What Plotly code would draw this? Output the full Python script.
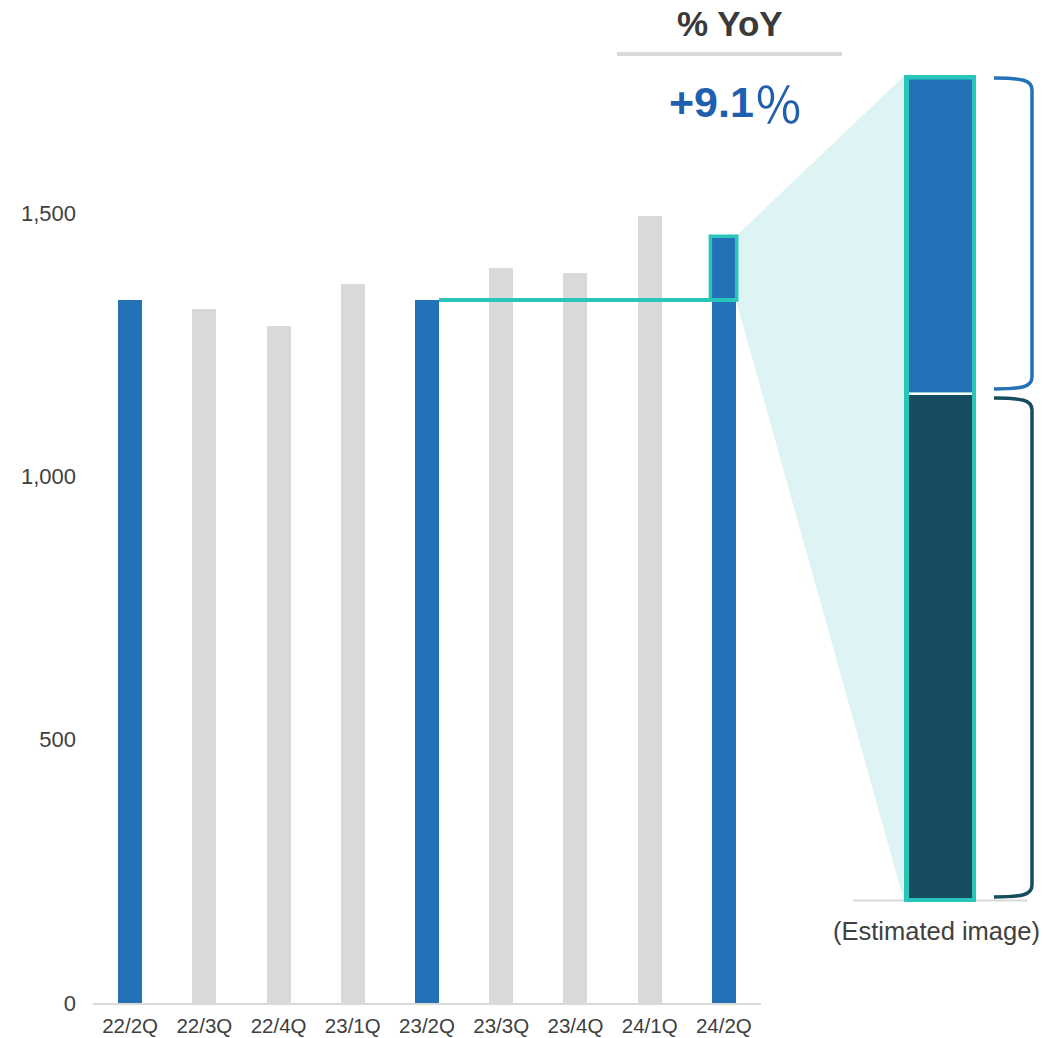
import plotly.graph_objects as go

# ---------------- data ----------------
quarters = ["22/2Q", "22/3Q", "22/4Q", "23/1Q", "23/2Q", "23/3Q", "23/4Q", "24/1Q", "24/2Q"]
values = [1334, 1318, 1286, 1365, 1335, 1396, 1386, 1494, 1456]
highlight = [True, False, False, False, True, False, False, False, True]
y_ticks = [0, 500, 1000, 1500]
y_tick_labels = ["0", "500", "1,000", "1,500"]
yoy_title = "% YoY"
yoy_value = "+9.1"
yoy_pct = "％"
estimate_label = "(Estimated image)"

# ---------------- style ----------------
BLUE = "#2371B7"
GRAY = "#D9D9D9"
TEAL = "#27C6B8"
LIGHT_TEAL = "#DDF3F4"
DARK = "#174B60"
TEXT = "#404040"
FONT = "Liberation Sans, Arial, sans-serif"

W, H = 1043, 1038
L, R, T, B = 93, 761, 35, 1003
YMAX = 1838
BAR_W = 0.324

def px(x):
    return (x - L) / (R - L)

def py(y):
    return (B - y) / (B - T)

def dx(x):
    return (x + 0.5) / len(quarters)

def dy(v):
    return v / YMAX

colors = [BLUE if h else GRAY for h in highlight]

fig = go.Figure(go.Bar(
    x=list(range(len(quarters))), y=values, marker=dict(color=colors, line=dict(width=0)),
    width=BAR_W, hoverinfo="skip",
))

shapes = []
# light teal zoom wedge
i_last, i_prev = len(values) - 1, 4
bx = dx(i_last + BAR_W / 2)
wedge = (f"M {bx},{dy(values[i_last])} L {px(904)},{py(76)} "
         f"L {px(904)},{py(901)} L {bx},{dy(values[i_prev])} Z")
shapes.append(dict(type="path", xref="paper", yref="paper", path=wedge,
                   fillcolor=LIGHT_TEAL, line=dict(width=0), layer="below"))

# YoY reference line and highlight box (data coords)
shapes.append(dict(type="line", xref="x", yref="y",
                   x0=i_prev + BAR_W / 2, x1=i_last + BAR_W / 2,
                   y0=values[i_prev], y1=values[i_prev],
                   line=dict(color=TEAL, width=4)))
shapes.append(dict(type="rect", xref="x", yref="y",
                   x0=i_last - BAR_W / 2 - 0.02, x1=i_last + BAR_W / 2 + 0.01,
                   y0=values[i_prev], y1=values[i_last],
                   line=dict(color=TEAL, width=3.5), fillcolor="rgba(0,0,0,0)"))

# big estimated bar
def prect(x0, y0, x1, y1, fill):
    return dict(type="rect", xref="paper", yref="paper", x0=px(x0), x1=px(x1),
                y0=py(y1), y1=py(y0), fillcolor=fill, line=dict(width=0))

shapes.append(dict(type="line", xref="paper", yref="paper", x0=px(853), x1=px(1027),
                   y0=py(900.5), y1=py(900.5), line=dict(color=GRAY, width=2)))
shapes.append(prect(904, 75, 976, 902, TEAL))
shapes.append(prect(909, 79.5, 972, 392.5, BLUE))
shapes.append(prect(909, 392.5, 972, 395, "white"))
shapes.append(prect(909, 395, 972, 898, DARK))

# brackets
def bracket(y0, y1, color):
    xa, xb = 994, 1032
    p = (f"M {px(xa)},{py(y0)} C {px(1022)},{py(y0)} {px(xb)},{py(y0 + 2)} {px(xb)},{py(y0 + 12)} "
         f"L {px(xb)},{py(y1 - 12)} C {px(xb)},{py(y1 - 2)} {px(1022)},{py(y1)} {px(xa)},{py(y1)}")
    return dict(type="path", xref="paper", yref="paper", path=p,
                line=dict(color=color, width=3.5))

shapes.append(bracket(78, 389, BLUE))
shapes.append(bracket(398, 897, DARK))

# line under % YoY
shapes.append(dict(type="line", xref="paper", yref="paper", x0=px(617), x1=px(842),
                   y0=py(54), y1=py(54), line=dict(color=GRAY, width=4)))

annotations = [
    dict(text=f"<b>{yoy_title}</b>", xref="paper", yref="paper", x=px(730), y=py(24),
         showarrow=False, font=dict(family=FONT, size=35, color="#3A3A3A"),
         xanchor="center", yanchor="middle"),
    dict(text=f"<b>{yoy_value}</b>", xref="paper", yref="paper", x=px(756), y=py(102),
         showarrow=False, font=dict(family=FONT, size=43, color="#1F60AE"),
         xanchor="right", yanchor="middle"),
    dict(text=yoy_pct, xref="paper", yref="paper", x=px(752), y=py(101),
         showarrow=False, font=dict(family="Noto Sans CJK JP", size=49, color="#1F60AE"),
         xanchor="left", yanchor="middle"),
    dict(text=estimate_label, xref="paper", yref="paper", x=px(936), y=py(931),
         showarrow=False, font=dict(family=FONT, size=25.5, color=TEXT),
         xanchor="center", yanchor="middle"),
]

fig.update_layout(
    width=W, height=H,
    margin=dict(l=L, r=W - R, t=T, b=H - B),
    plot_bgcolor="white", paper_bgcolor="white",
    showlegend=False, bargap=0,
    shapes=shapes, annotations=annotations,
    font=dict(family=FONT, size=21, color=TEXT),
)
fig.update_xaxes(
    range=[-0.5, len(quarters) - 0.5], tickmode="array",
    tickvals=list(range(len(quarters))), ticktext=quarters,
    showgrid=False, zeroline=False, showline=True, linecolor=GRAY, linewidth=2,
    ticks="", tickfont=dict(size=20.5, color=TEXT), ticklabelstandoff=3, automargin=False,
)
fig.update_yaxes(
    range=[0, YMAX], tickmode="array", tickvals=y_ticks, ticktext=y_tick_labels,
    showgrid=False, zeroline=False, showline=False, ticks="",
    tickfont=dict(size=22, color=TEXT), ticklabelstandoff=16, automargin=False,
)

fig.write_html("out.html")
